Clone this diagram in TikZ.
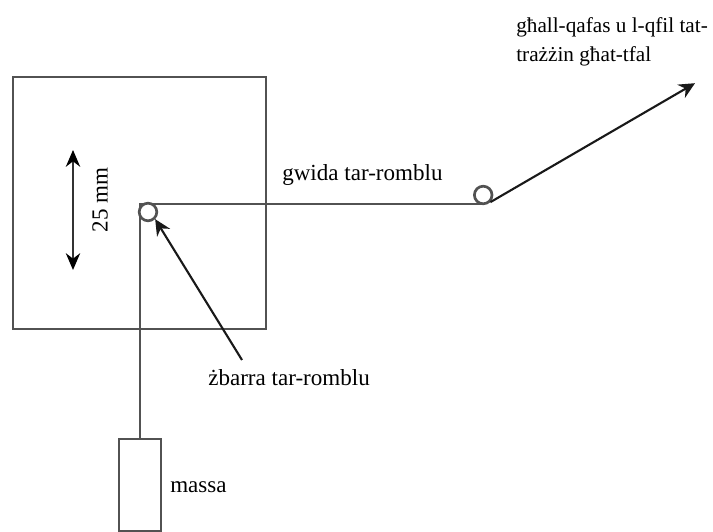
\documentclass[tikz,border=0pt]{standalone}
\usepackage{fontspec}
\setmainfont{Liberation Serif}
\usetikzlibrary{arrows.meta}
\tikzset{
	wire/.style={draw=black!68,line width=1.9pt},
	pointer/.style={draw=black!90,line width=1.5pt,-{Stealth[length=0.4cm,width=0.38cm]}},
	twohead/.style={draw=black!80,line width=1.2pt,{Stealth[length=0.42cm,width=0.36cm,black]}-{Stealth[length=0.42cm,width=0.36cm,black]}},
	lbl/.style={inner sep=0pt,font=\fontsize{16.4}{20}\selectfont},
	toplbl/.style={inner sep=0pt,font=\fontsize{15.1}{20.6}\selectfont},
	roller/.style={circle,wire,fill=white,minimum size=0.44cm,inner sep=0pt}
}
\begin{document}
\begin{tikzpicture}
	\useasboundingbox (0,0) rectangle (17.825,13.3);
	\node[wire,minimum width=6.325cm,minimum height=6.3cm,inner sep=0pt] (frame) at (3.4875,8.225) {};
	\node[wire,minimum width=1.05cm,minimum height=2.3cm,inner sep=0pt] (massa) at (3.5,1.175) {};
	\node[lbl,anchor=west] (massalbl) at (4.25,1.12) {massa};
	\coordinate (corner) at (3.5,8.2);
	\coordinate (guideend) at (12.05,8.2);
	\draw[wire] (massa.north) -- (corner) -- (guideend);
	\node[roller] (rollerA) at (3.7,8) {};
	\node[roller] (rollerB) at (12.08,8.425) {};
	\coordinate (tip) at (17.375,11.22);
	\draw[pointer] (rollerB.south east) -- (tip);
	\coordinate (upper) at (1.825,9.55);
	\coordinate (lower) at (1.825,6.55);
	\draw[twohead] (upper) -- (lower);
	\node[lbl,rotate=90] (width) at (2.5,8.3) {25 mm};
	\node[lbl,anchor=base west] (guidelbl) at (7.05,8.78) {gwida tar-romblu};
	\node[lbl,anchor=west] (barlbl) at (5.2,3.85) {żbarra tar-romblu};
	\coordinate (barfoot) at (6.05,4.3);
	\draw[pointer] (barfoot) -- (rollerA.south east);
	\node[toplbl,anchor=west,align=left] (cagelbl) at (12.9,12.25) {għall-qafas u l-qfil tat-\\trażżin għat-tfal};
\end{tikzpicture}
\end{document}
